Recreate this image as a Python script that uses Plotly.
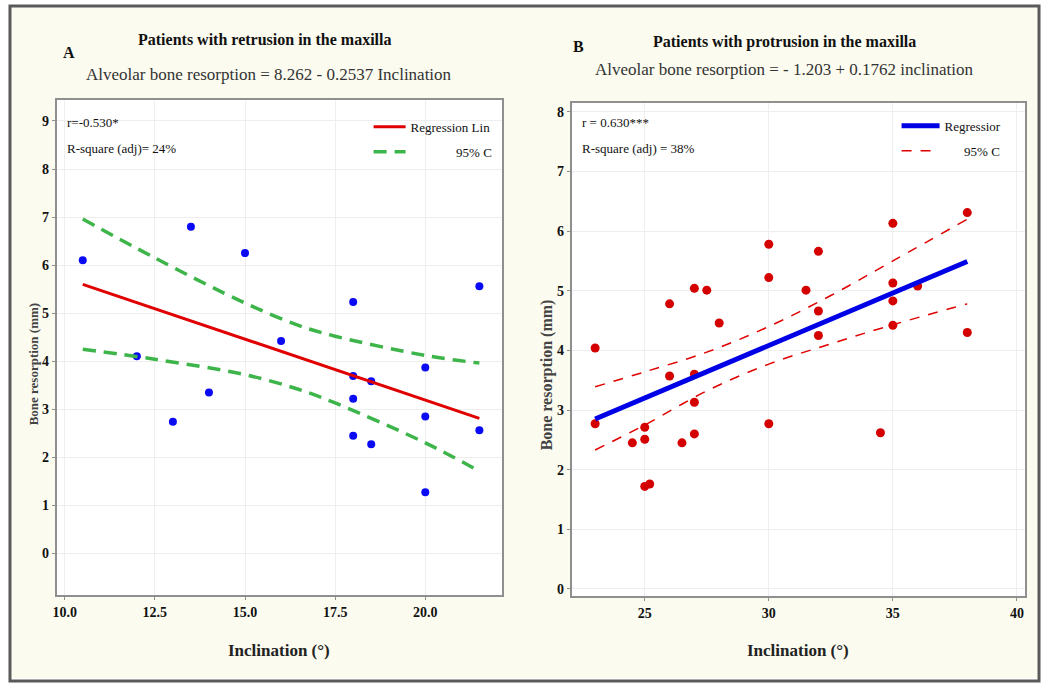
import plotly.graph_objects as go

W, H = 1045, 684

# ---------------- Data ----------------
# Panel A: retrusion
A_x = [10.5, 12, 13, 13.5, 14, 15, 16, 18, 18, 18, 18, 18.5, 18.5, 20, 20, 20, 21.5, 21.5]
A_y = [6.1, 4.1, 2.74, 6.8, 3.35, 6.25, 4.42, 5.23, 3.69, 3.22, 2.45, 3.58, 2.27, 3.87, 2.85, 1.27, 5.56, 2.56]
A_fit_x = [10.5, 21.5]
A_fit_y = [5.6, 2.81]
A_ci_x = [10.5, 12.5, 15, 16.5, 17.5, 20, 21.5]
A_ci_upper = [6.96, 6.15, 5.21, 4.74, 4.52, 4.12, 3.96]
A_ci_lower = [4.25, 4.04, 3.72, 3.41, 3.13, 2.30, 1.71]
A_xticks = [10.0, 12.5, 15.0, 17.5, 20.0]
A_yticks = [0, 1, 2, 3, 4, 5, 6, 7, 8, 9]

# Panel B: protrusion
B_x = [23, 23, 24.5, 25, 25, 25, 25.2, 26, 26, 26.5, 27, 27, 27, 27, 27.5, 28,
       30, 30, 30, 31.5, 32, 32, 32, 34.5, 35, 35, 35, 35, 36, 38, 38]
B_y = [4.04, 2.77, 2.45, 2.71, 2.51, 1.72, 1.76, 4.78, 3.57, 2.45, 5.04, 3.6, 3.13, 2.6, 5.01, 4.46,
       5.78, 5.22, 2.77, 5.01, 5.66, 4.66, 4.25, 2.62, 6.13, 5.13, 4.83, 4.42, 5.08, 6.31, 4.30]
B_fit_x = [23, 38]
B_fit_y = [2.85, 5.49]
B_ci_x = [23, 25, 27.5, 30, 32.5, 35, 38]
B_ci_upper = [3.39, 3.64, 3.97, 4.40, 4.92, 5.50, 6.20]
B_ci_lower = [2.33, 2.75, 3.32, 3.77, 4.11, 4.43, 4.78]
B_xticks = [25, 30, 35, 40]
B_yticks = [0, 1, 2, 3, 4, 5, 6, 7, 8]

# ---------------- helpers ----------------
def px(x):
    return x / W

def py(y):
    return 1 - y / H

SERIF = "Liberation Serif"
CREAM = "#fbfbef"

fig = go.Figure()

# Panel A traces
fig.add_trace(go.Scatter(x=A_x, y=A_y, mode="markers", xaxis="x", yaxis="y",
                         marker=dict(color="#0a0af5", size=8), showlegend=False))
fig.add_trace(go.Scatter(x=A_fit_x, y=A_fit_y, mode="lines", xaxis="x", yaxis="y",
                         line=dict(color="#e00000", width=3), name="Regression Lin",
                         legend="legend", legendgroup="a1"))
fig.add_trace(go.Scatter(x=A_ci_x, y=A_ci_upper, mode="lines", xaxis="x", yaxis="y",
                         line=dict(color="#3db54a", width=3.5, dash="13px,8px", shape="spline"),
                         name="\u00a0" * 14 + "95% C", legend="legend", legendgroup="a2"))
fig.add_trace(go.Scatter(x=A_ci_x, y=A_ci_lower, mode="lines", xaxis="x", yaxis="y",
                         line=dict(color="#3db54a", width=3.5, dash="13px,8px", shape="spline"),
                         showlegend=False, legendgroup="a2"))

# Panel B traces
fig.add_trace(go.Scatter(x=B_x, y=B_y, mode="markers", xaxis="x2", yaxis="y2",
                         marker=dict(color="#d40000", size=9), showlegend=False))
fig.add_trace(go.Scatter(x=B_fit_x, y=B_fit_y, mode="lines", xaxis="x2", yaxis="y2",
                         line=dict(color="#0000e6", width=5), name="Regressior",
                         legend="legend2", legendgroup="b1"))
fig.add_trace(go.Scatter(x=B_ci_x, y=B_ci_upper, mode="lines", xaxis="x2", yaxis="y2",
                         line=dict(color="#e00000", width=1.5, dash="10px,9px", shape="spline"),
                         name="\u00a0" * 6 + "95% C", legend="legend2", legendgroup="b2"))
fig.add_trace(go.Scatter(x=B_ci_x, y=B_ci_lower, mode="lines", xaxis="x2", yaxis="y2",
                         line=dict(color="#e00000", width=1.5, dash="10px,9px", shape="spline"),
                         showlegend=False, legendgroup="b2"))

axis_common = dict(
    showline=True, linecolor="#8f8f8f", linewidth=2, mirror=True,
    showgrid=True, gridcolor="#eeeeee", gridwidth=1, zeroline=False,
    ticks="outside", ticklen=3, tickcolor="#8f8f8f",
    tickfont=dict(family=SERIF, size=14, color="#111111", weight="bold"),
)

fig.update_layout(
    width=W, height=H,
    margin=dict(l=0, r=0, t=0, b=0),
    paper_bgcolor=CREAM,
    plot_bgcolor="white",
    xaxis=dict(domain=[px(53), px(500)], range=[9.78, 22.13], anchor="y",
               tickvals=A_xticks, tickformat=".1f", **axis_common),
    yaxis=dict(domain=[py(596), py(100)], range=[-0.87, 9.44], anchor="x",
               tickvals=A_yticks, **axis_common),
    xaxis2=dict(domain=[px(570), px(1025)], range=[22.06, 40.33], anchor="y2",
                tickvals=B_xticks, **axis_common),
    yaxis2=dict(domain=[py(597), py(103)], range=[-0.12, 8.15], anchor="x2",
                tickvals=B_yticks, **axis_common),
    legend=dict(x=px(366), y=py(112), xanchor="left", yanchor="top",
                bgcolor="rgba(0,0,0,0)", font=dict(family=SERIF, size=13, color="#111"),
                itemwidth=32, tracegroupgap=5, traceorder="grouped"),
    legend2=dict(x=px(896), y=py(111), xanchor="left", yanchor="top",
                 bgcolor="rgba(0,0,0,0)", font=dict(family=SERIF, size=13, color="#111"),
                 itemwidth=38, tracegroupgap=5, traceorder="grouped"),
)

# White outer margin and dark frame
fig.add_shape(type="rect", xref="paper", yref="paper",
              x0=0, x1=1, y0=0, y1=1,
              line=dict(color="white", width=10), fillcolor="rgba(0,0,0,0)", layer="below")
fig.add_shape(type="rect", xref="paper", yref="paper",
              x0=px(6), x1=px(1039), y0=py(682), y1=py(6),
              line=dict(color="#5a5a5a", width=3), fillcolor="rgba(0,0,0,0)", layer="below")

def ann(text, x, y, size, bold=False, color="#111111", xanchor="center", angle=0):
    fig.add_annotation(text=text, x=px(x), y=py(y), xref="paper", yref="paper",
                       showarrow=False, xanchor=xanchor, yanchor="middle", textangle=angle,
                       font=dict(family=SERIF, size=size, color=color,
                                 weight="bold" if bold else "normal"))

# Panel A texts
ann("A", 65, 53, 16, bold=True)
ann("Patients with retrusion in the maxilla", 262, 40, 16, bold=True)
ann("Alveolar bone resorption = 8.262 - 0.2537 Inclination", 266, 75, 17, color="#333333")
ann("r=-0.530*", 61, 123, 13, xanchor="left")
ann("R-square (adj)= 24%", 61, 149, 13, xanchor="left")
ann("Inclination (°)", 276, 651, 17, bold=True, color="#222222")
ann("Bone resorption (mm)", 30, 364, 13, bold=True, color="#444444", angle=-90)

# Panel B texts
ann("B", 577, 47, 16, bold=True)
ann("Patients with protrusion in the maxilla", 783, 42, 16, bold=True)
ann("Alveolar bone resorption = - 1.203 + 0.1762 inclination", 783, 70, 17, color="#333333")
ann("r = 0.630***", 578, 123, 13, xanchor="left")
ann("R-square (adj) = 38%", 578, 149, 13, xanchor="left")
ann("Inclination (°)", 797, 651, 17, bold=True, color="#222222")
ann("Bone resorption (mm)", 546, 375, 16, bold=True, color="#444444", angle=-90)

fig.write_html("out.html")
